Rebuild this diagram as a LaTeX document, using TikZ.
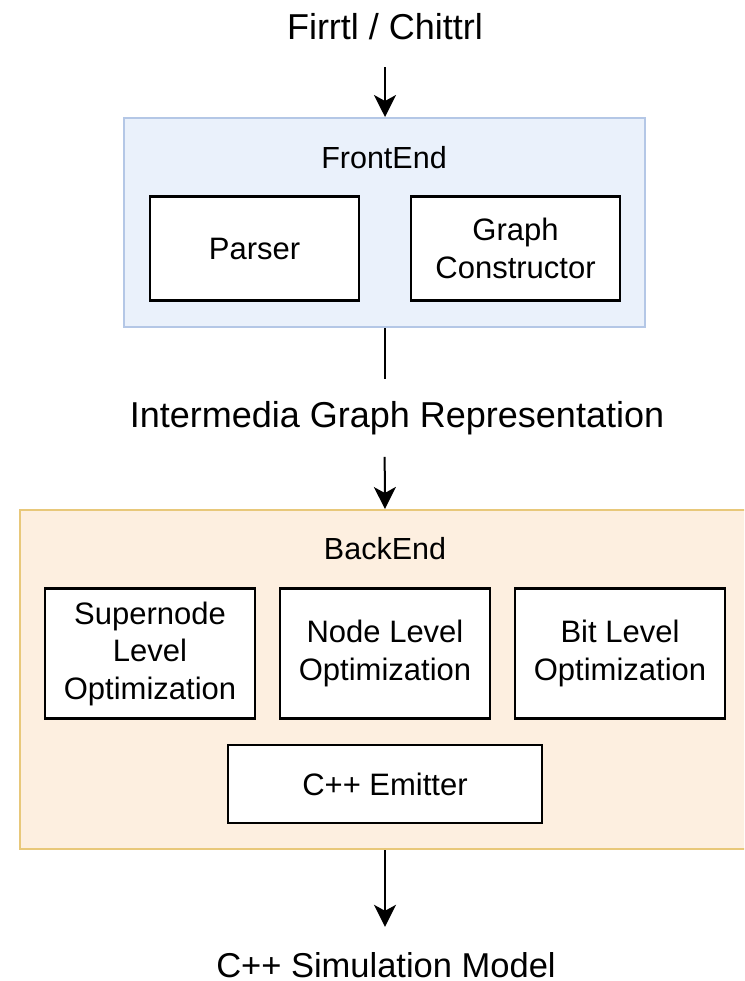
\documentclass[tikz,border=0pt]{standalone}
\usepackage{fontspec}
\setmainfont{Liberation Sans}
\usepackage{tikz}
\usetikzlibrary{arrows.meta,positioning}
\definecolor{feFill}{RGB}{234,241,251}
\definecolor{feDraw}{RGB}{180,199,230}
\definecolor{beFill}{RGB}{253,239,224}
\definecolor{beDraw}{RGB}{232,200,122}
\tikzset{
>={Stealth[length=22pt,width=22pt,inset=6pt]},
titolo/.style={font=\fontsize{36}{40}\selectfont,inner sep=0pt},
etichetta/.style={inner sep=0pt,font=\fontsize{30.5}{36}\selectfont},
contenitore/.style={rectangle,line width=2pt,inner sep=0pt},
blocco/.style={rectangle,draw,line width=2.2pt,fill=white,inner sep=0pt,outer sep=0pt,
  align=center,font=\fontsize{31}{37.5}\selectfont},
freccia/.style={->,line width=2pt}}

\begin{document}
\begin{tikzpicture}[x=1pt,y=-1pt]

\clip (0,0) rectangle (744,981);
\node[titolo] (firrtl) at (385,27) {Firrtl / Chittrl};

% FrontEnd
\node[contenitore,draw=feDraw,fill=feFill,minimum width=521pt,minimum height=209pt]
  (frontend) at (384.5,222.5) {};
\node[etichetta] (felabel) at (384,158) {FrontEnd};
\node[blocco,minimum width=209pt,minimum height=104pt] (parser) at (254.5,248.5) {Parser};
\node[blocco,minimum width=209pt,minimum height=104pt] (graphc) at (515.5,248.5) {Graph\\Constructor};

\node[titolo] (ir) at (397,418) {Intermedia Graph Representation};

% BackEnd
\node[contenitore,draw=beDraw,fill=beFill,minimum width=730pt,minimum height=339pt]
  (backend) at (385,679.5) {};
\node[etichetta] (belabel) at (385,549) {BackEnd};
\node[blocco,minimum width=210pt,minimum height=130pt] (supernode) at (150,653.5) {Supernode\\Level\\Optimization};
\node[blocco,minimum width=210pt,minimum height=130pt,right=25pt of supernode] (nodelevel) {Node Level\\Optimization};
\node[blocco,minimum width=210pt,minimum height=130pt,right=25pt of nodelevel] (bitlevel) {Bit Level\\Optimization};
\node[blocco,minimum width=314pt,minimum height=78pt] (emitter) at (385,784) {C++ Emitter};

\node[titolo,font=\fontsize{34.5}{40}\selectfont,anchor=base] (model) at (386,977) {C++ Simulation Model};

\draw[freccia,shorten <=27pt] (firrtl) -- (firrtl |- frontend.north);
\draw[line width=2pt,shorten >=22pt] (frontend.south) -- (frontend.south |- ir.north);
\draw[freccia,shorten <=22pt] (frontend.south |- ir.south) -- (backend.north);
\draw[freccia,shorten >=25pt] (backend.south) -- (backend.south |- model.north);

\end{tikzpicture}
\end{document}
